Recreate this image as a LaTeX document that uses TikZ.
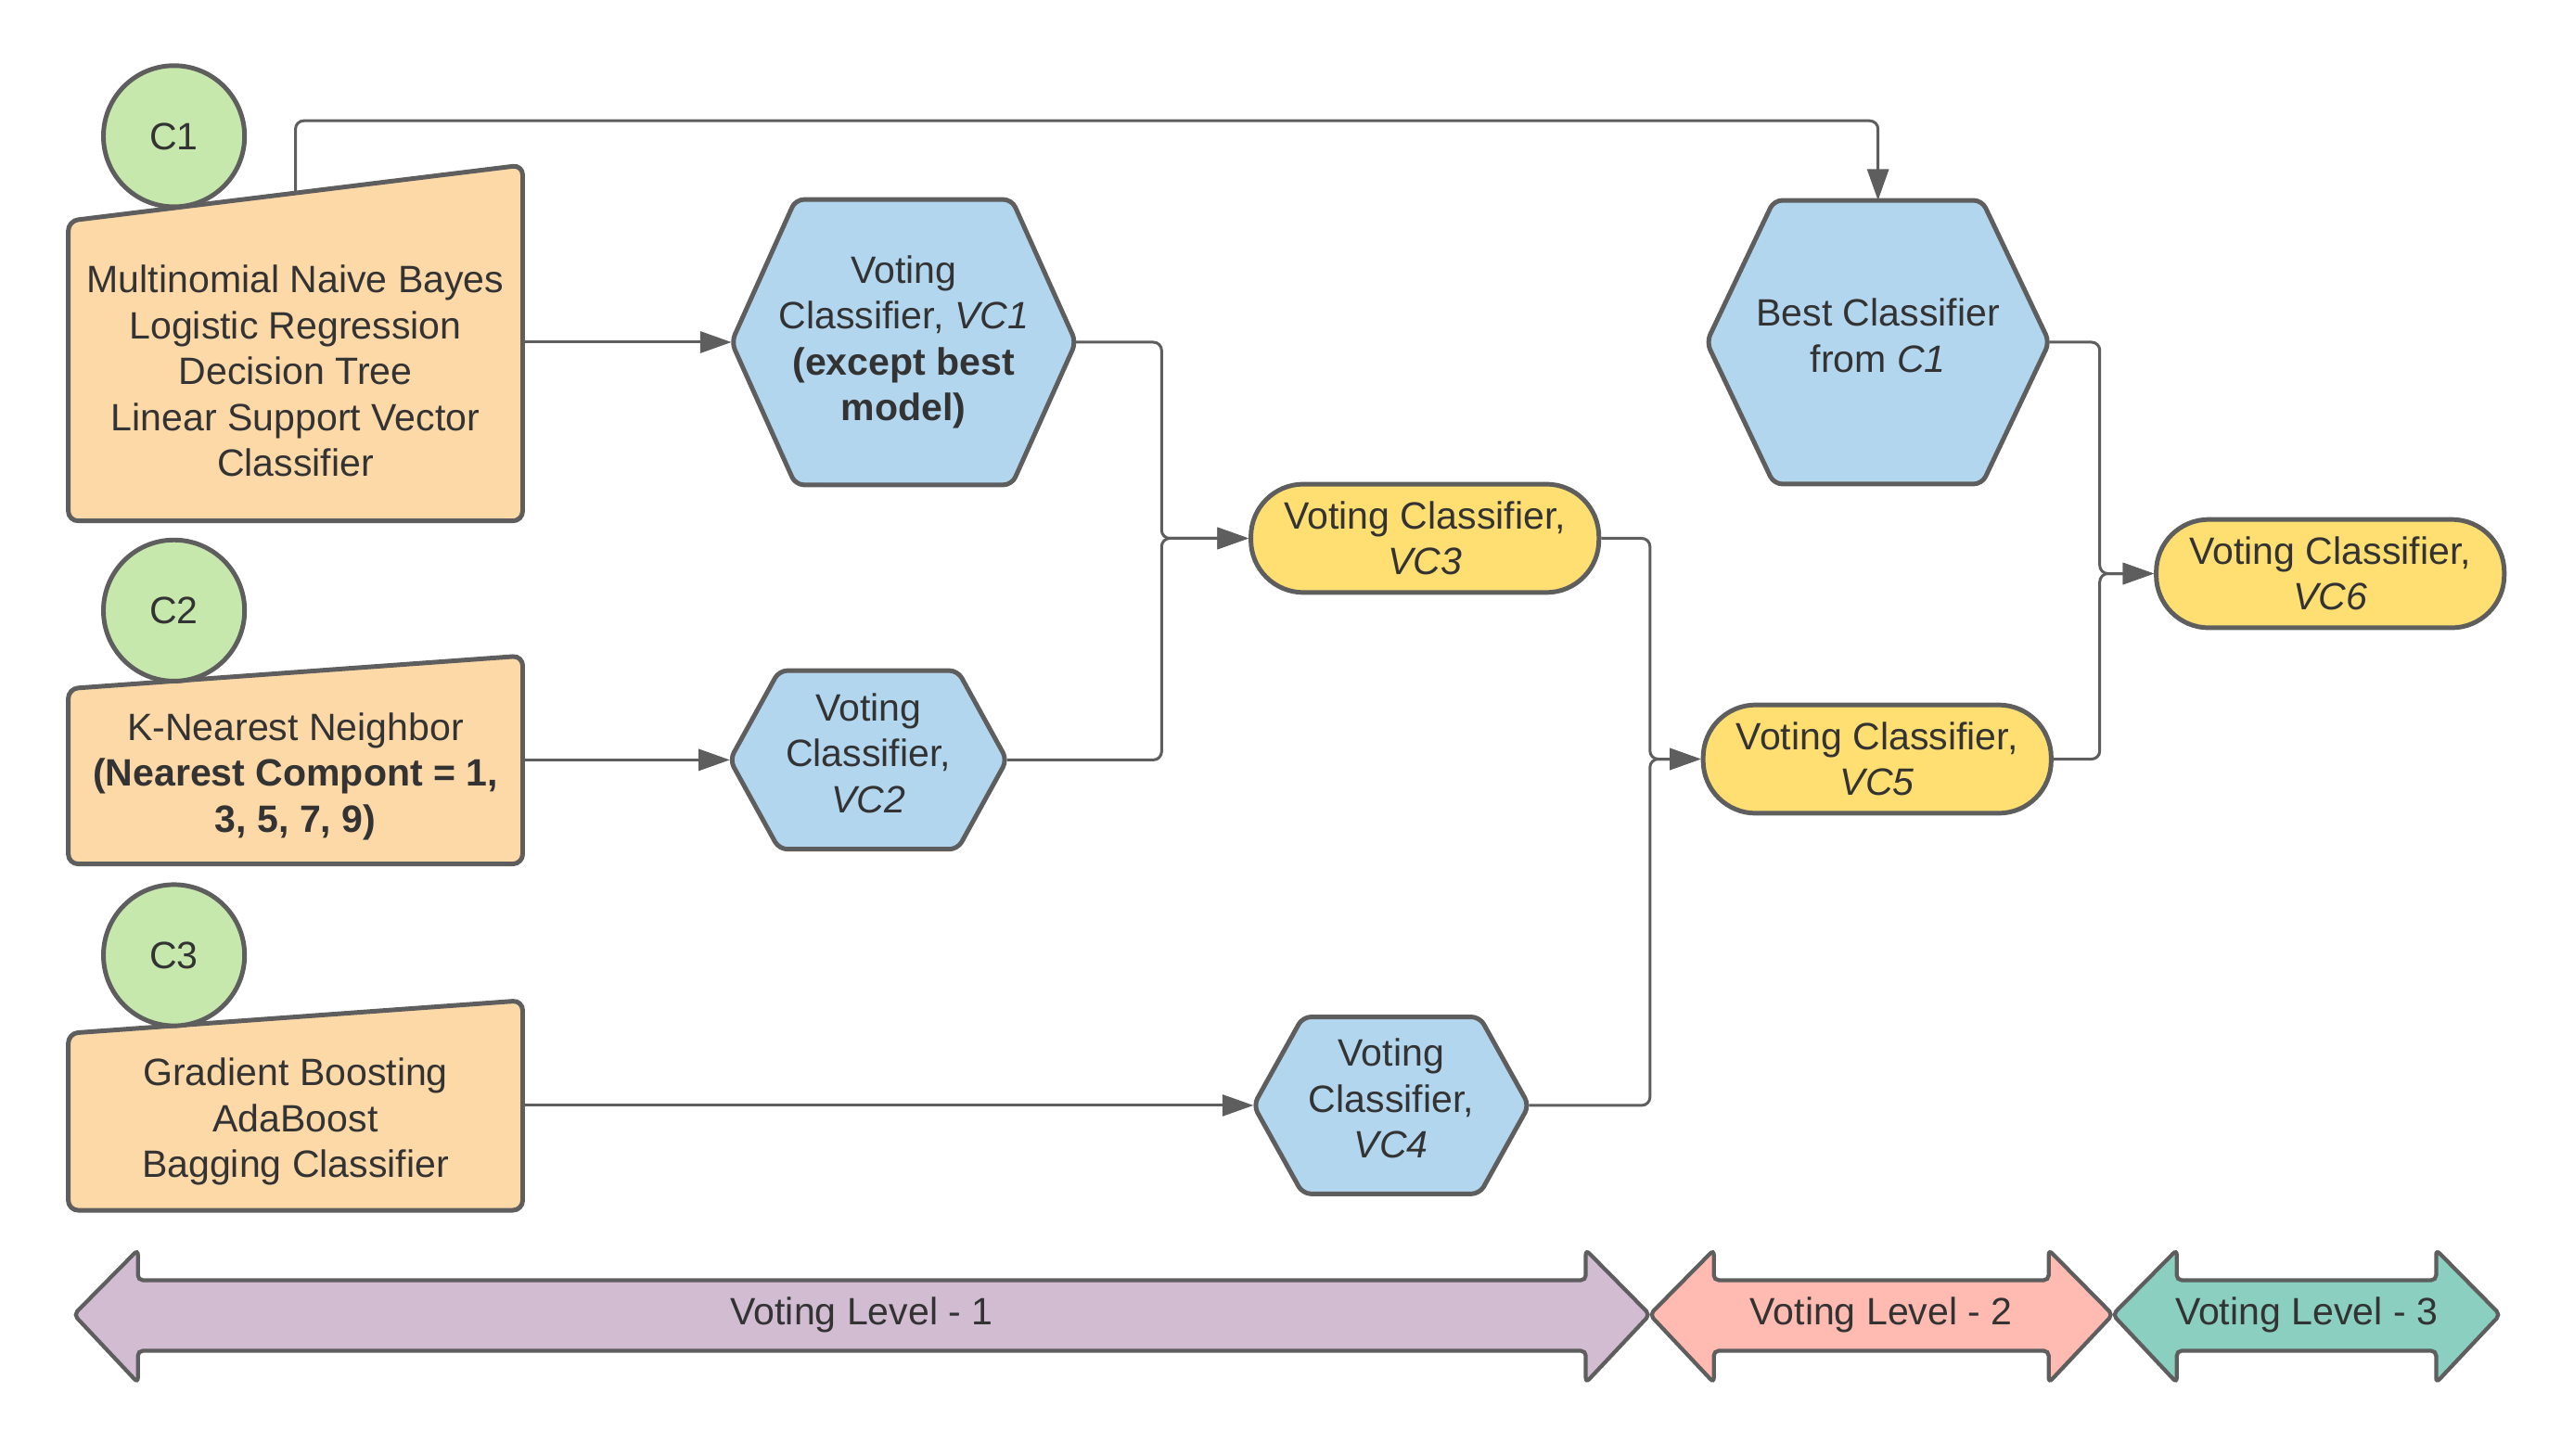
\documentclass[tikz,border=0pt]{standalone}
\usepackage{fontspec}
\setmainfont{Liberation Sans}
\usetikzlibrary{arrows.meta}
\definecolor{linegray}{HTML}{5E5E5E}
\definecolor{textgray}{HTML}{333333}
\definecolor{orangefill}{HTML}{FDD9A8}
\definecolor{bluefill}{HTML}{B3D6EF}
\definecolor{yellowfill}{HTML}{FFDF71}
\definecolor{greenfill}{HTML}{C7E8AC}
\definecolor{lvlone}{HTML}{D1BCD2}
\definecolor{lvltwo}{HTML}{FFBBB1}
\definecolor{lvlthree}{HTML}{8BCFC0}
\pgfdeclarelayer{background}
\pgfsetlayers{background,main}
\begin{document}
\begin{tikzpicture}[x=0.5pt,y=-0.5pt,
    every node/.style={text=textgray,font=\fontsize{11.6}{14}\selectfont,align=center,inner sep=0pt},
    outline/.style={draw=linegray,line width=1.4pt,rounded corners=3pt},
    group/.style={circle,draw=linegray,line width=1.4pt,fill=greenfill,minimum size=43pt},
    listbox/.style={minimum width=138pt},
    struts/.style={execute at begin node=\strut,execute at end node=\strut},
    vote/.style={draw=linegray,line width=1.4pt,fill=yellowfill,rounded corners=16pt,minimum width=106pt,minimum height=33pt},
    link/.style={draw=linegray,line width=0.85pt,rounded corners=2.5pt,-{Triangle[length=9.5pt,width=6.5pt]}}]
            \path[use as bounding box] (0,0) rectangle (1568,886.6);
            \node (c1list) at (180,226) [listbox,minimum height=91pt] {Multinomial Naive Bayes\\Logistic Regression\\Decision Tree\\Linear Support Vector\\Classifier};
            \node (c2list) at (180,473) [listbox,minimum height=53pt] {K-Nearest Neighbor\\\textbf{(Nearest Compont = 1,}\\\textbf{3, 5, 7, 9)}};
            \node (c3list) at (180,683.5) [listbox,minimum height=53.5pt] {Gradient Boosting\\AdaBoost\\Bagging Classifier};
            \node (c1) at (106,83) [group] {C1};
            \node (c2) at (106,372) [group] {C2};
            \node (c3) at (106,582) [group] {C3};
            \node (vc1) at (550.5,208.5) [minimum width=104.5pt,minimum height=86.5pt] {Voting\\Classifier, \textit{VC1}\\\textbf{(except best}\\\textbf{model)}};
            \node (vc2) at (529,463) [struts,minimum width=84pt,minimum height=54pt] {Voting\\Classifier,\\\textit{VC2}};
            \node (vc4) at (847.5,673.5) [struts,minimum width=83.5pt,minimum height=53.5pt] {Voting\\Classifier,\\\textit{VC4}};
            \node (best) at (1144,208.5) [struts,minimum width=104pt,minimum height=86pt] {Best Classifier\\from \textit{C1}};
            \node (vc3) at (868,328) [vote] {Voting Classifier,\\\textit{VC3}};
            \node (vc5) at (1143.5,462.5) [vote] {Voting Classifier,\\\textit{VC5}};
            \node (vc6) at (1419.5,349.5) [vote] {Voting Classifier,\\\textit{VC6}};
            \begin{pgfonlayer}{background}
            \foreach \n/\r in {c1list/17pt,c2list/10pt,c3list/10pt}
                \filldraw[outline,fill=orangefill] (\n.south west) -- (\n.south east) -- ([yshift=\r]\n.north east) -- (\n.north west) -- cycle;
            \foreach \n/\c in {vc1/19.5pt,vc2/15pt,vc4/15pt,best/20.5pt}
                \filldraw[outline,fill=bluefill,rounded corners=2.5pt] (\n.west) -- ([xshift=\c]\n.north west) -- ([xshift=-\c]\n.north east) -- (\n.east) -- ([xshift=-\c]\n.south east) -- ([xshift=\c]\n.south west) -- cycle;
            \end{pgfonlayer}
            \coordinate (j1) at ([xshift=-26.5pt]vc3.west);
            \coordinate (j2) at ([xshift=-15.5pt]vc5.west);
            \coordinate (j3) at ([xshift=-16.5pt]vc6.west);
            \draw[link] (c1list.east |- vc1.west) -- (vc1.west);
            \draw[link] (c2list.east |- vc2.west) -- (vc2.west);
            \draw[link] (c3list.east |- vc4.west) -- (vc4.west);
            \draw[link] ([yshift=8.5pt]c1list.north) -- ++(0,-44) -| (best.north);
            \draw[link] (vc1.east) -| (j1) -- (vc3.west);
            \draw[link] (vc2.east) -| (j1) -- (vc3.west);
            \draw[link] (vc3.east) -| (j2) -- (vc5.west);
            \draw[link] (vc4.east) -| (j2) -- (vc5.west);
            \draw[link] (best.east) -| (j3) -- (vc6.west);
            \draw[link] (vc5.east) -| (j3) -- (vc6.west);
            \foreach \a/\b/\col [count=\i] in {45/1005/lvlone,1005/1287/lvltwo,1287/1523/lvlthree} {
                \filldraw[outline,line width=1.2pt,fill=\col,rounded corners=1.5pt] (\a,801) -- (\a+39,761.5) -- (\a+39,780) -- (\b-39,780) -- (\b-39,761.5) -- (\b,801) -- (\b-39,842.5) -- (\b-39,823) -- (\a+39,823) -- (\a+39,842.5) -- cycle;
                \node (level\i) at ({(\a+\b)/2},801) {Voting Level - \i};
            }
        \end{tikzpicture}
\end{document}
